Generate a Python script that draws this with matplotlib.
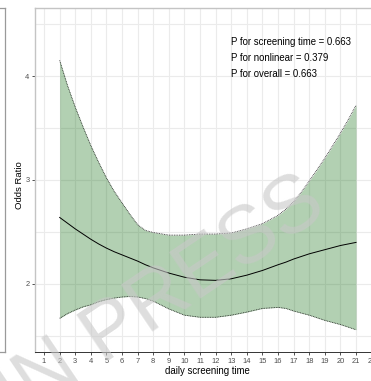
import matplotlib
matplotlib.use("Agg")
import matplotlib.pyplot as plt
from matplotlib.lines import Line2D

plt.rcParams['font.family'] = ['Liberation Sans', 'DejaVu Sans']

# data
x_vals = [2, 2.5, 3, 3.5, 4, 4.5, 5, 5.5, 6, 6.5, 7, 7.5, 8, 9, 10, 11, 12, 13, 14, 15,
          16, 16.5, 17, 17.5, 18, 18.5, 19, 19.5, 20, 20.5, 21]
or_center = [2.64, 2.585, 2.53, 2.48, 2.43, 2.385, 2.345, 2.31, 2.28, 2.25, 2.22, 2.185,
             2.155, 2.105, 2.065, 2.04, 2.035, 2.05, 2.085, 2.13, 2.185, 2.21, 2.24, 2.265,
             2.29, 2.31, 2.33, 2.35, 2.37, 2.385, 2.40]
or_upper = [4.15, 3.91, 3.70, 3.51, 3.33, 3.17, 3.02, 2.89, 2.78, 2.67, 2.57, 2.515,
            2.495, 2.47, 2.47, 2.48, 2.48, 2.49, 2.53, 2.58, 2.66, 2.72, 2.79, 2.885,
            2.99, 3.10, 3.21, 3.33, 3.45, 3.58, 3.72]
or_lower = [1.67, 1.715, 1.75, 1.78, 1.80, 1.83, 1.85, 1.865, 1.875, 1.88, 1.875, 1.86,
            1.835, 1.76, 1.70, 1.68, 1.68, 1.70, 1.73, 1.765, 1.775, 1.765, 1.74, 1.72,
            1.70, 1.675, 1.65, 1.63, 1.61, 1.585, 1.56]
x_ticks = list(range(1, 23))
y_ticks = [2, 3, 4]
y_minor = [1.5, 2.5, 3.5, 4.5]
annot_lines = ["P for screening time = 0.663", "P for nonlinear = 0.379", "P for overall = 0.663"]

W, H = 371, 381
fig = plt.figure(figsize=(W / 100, H / 100), dpi=100)

# left neighbour panel edge
fig.add_artist(Line2D([5 / W, 5 / W], [1 - 8 / H, 1 - 352 / H], color='#9a9a9a', lw=0.9))
fig.add_artist(Line2D([0, 5 / W], [1 - 8 / H, 1 - 8 / H], color='#9a9a9a', lw=0.9))
fig.add_artist(Line2D([0, 5 / W], [1 - 352 / H, 1 - 352 / H], color='#9a9a9a', lw=0.9))

ax = fig.add_axes([35 / W, (H - 352) / H, 346 / W, 344 / H])
ax.set_xlim(0.42, 22.6)
ax.set_ylim(1.346, 4.654)

ax.set_xticks(x_ticks)
ax.set_yticks(y_ticks)
ax.set_yticks(y_minor, minor=True)
ax.grid(True, which='both', color='#ebebeb', lw=0.8)
ax.set_axisbelow(True)

ax.fill_between(x_vals, or_lower, or_upper, color='darkgreen', alpha=0.3, lw=0, zorder=2)
ax.plot(x_vals, or_upper, color='#222222', ls=(0, (1, 1)), lw=0.6, zorder=3)
ax.plot(x_vals, or_lower, color='#222222', ls=(0, (1, 1)), lw=0.6, zorder=3)
ax.plot(x_vals, or_center, color='black', lw=0.7, zorder=4)

for s in ['top', 'left']:
    ax.spines[s].set_color('#c4c4c4')
    ax.spines[s].set_linewidth(1.0)
ax.spines['right'].set_visible(False)
ax.spines['bottom'].set_color('#333333')
ax.spines['bottom'].set_linewidth(0.7)

ax.tick_params(axis='both', which='major', length=2.5, width=0.6, color='#333333',
               labelsize=5.4, labelcolor='#4d4d4d', pad=1.5)
ax.tick_params(axis='y', which='minor', length=0)

fig.text(20 / W, 1 - 185 / H, 'Odds Ratio', rotation=90, ha='center', va='center',
         fontsize=6.8, color='black')
fig.text(207 / W, 1 - 371 / H, 'daily screening time', ha='center', va='center',
         fontsize=6.9, color='black')

for i, t in enumerate(annot_lines):
    fig.text(231 / W, 1 - (42 + 15.8 * i) / H, t, ha='left', va='center', fontsize=6.9,
             color='black')

fig.text(162 / W, 1 - 300 / H, 'IN PRESS', rotation=34, rotation_mode='anchor',
         ha='center', va='center', fontsize=58, color='#c8c8c8', alpha=0.6, zorder=10)

fig.savefig('out.png', dpi=100)
